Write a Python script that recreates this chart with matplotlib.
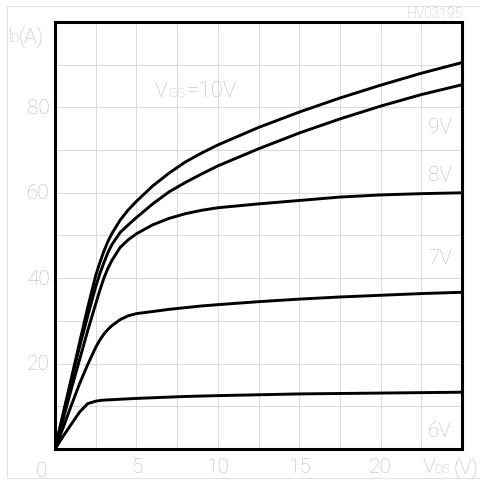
import matplotlib
matplotlib.use("Agg")
import matplotlib.pyplot as plt
from matplotlib.patches import Rectangle

vds = [0, 0.5, 1, 1.5, 2, 2.5, 2.75, 3, 3.25, 3.5, 4, 4.5, 5, 6, 7, 8, 9, 10, 12.5, 15, 17.5, 20, 22.5, 25]
id_10v = [0, 8.3, 16.5, 24.8, 33, 40.6, 43.6, 46.3, 48.6, 50.5, 53.6, 56, 58, 61.6, 64.6, 67.2, 69.3, 71.2, 75.3, 78.9, 82.2, 85.2, 88, 90.5]
id_9v = [0, 8, 16, 23.8, 31, 38, 41, 43.6, 46, 47.9, 50.7, 52.5, 54.2, 57.4, 60.2, 62.4, 64.4, 66.3, 70.3, 74, 77.3, 80.3, 83, 85.3]
id_8v = [0, 7, 14, 20.8, 27.6, 34, 37.1, 40, 42.3, 44.2, 47.2, 49, 50.4, 52.5, 54, 55.1, 55.9, 56.5, 57.4, 58.2, 59, 59.5, 59.8, 60]
id_7v = [0, 5, 10.2, 15.2, 19.7, 23.8, 25.5, 26.9, 28, 28.9, 30.3, 31.2, 31.7, 32.2, 32.7, 33.1, 33.5, 33.8, 34.5, 35.1, 35.6, 36, 36.4, 36.7]
id_6v = [0, 3, 5.8, 8.6, 10.6, 11.2, 11.35, 11.45, 11.5, 11.55, 11.65, 11.75, 11.85, 12.0, 12.15, 12.3, 12.4, 12.5, 12.7, 12.9, 13.0, 13.1, 13.2, 13.3]
series = [id_10v, id_9v, id_8v, id_7v, id_6v]

xticks = [5, 10, 15, 20]
yticks = [20, 40, 60, 80]

W = H = 481
fig = plt.figure(figsize=(W / 100, H / 100), dpi=100)
ax = fig.add_axes([55 / W, 1 - 450 / H, (462 - 55) / W, (450 - 23) / H])

TXT = "#bcbcbc"
FAM = ['Roboto', 'DejaVu Sans']
WT = 'light'

def px(x, y):
    return x / W, 1 - y / H

def t(x, y, s, size=15, ha="left", va="baseline"):
    fig.text(*px(x, y), s, ha=ha, va=va, color=TXT, fontsize=size, family=FAM, fontweight=WT)

# outer light frame
fig.patches.append(Rectangle(px(7, 479), (W + 10) / W, (479 - 7) / H, transform=fig.transFigure,
                             fill=False, edgecolor="#e2e2e2", linewidth=0.8, zorder=0))

for s in series:
    ax.plot(vds, s, color="black", linewidth=2.1, solid_capstyle="round", solid_joinstyle="round", zorder=3)

ax.set_xlim(0, 25)
ax.set_ylim(0, 100)
ax.set_xticks([x * 2.5 for x in range(11)])
ax.set_yticks(range(0, 101, 10))
ax.grid(True, color="#dcdcdc", linewidth=0.8)
ax.tick_params(length=0, labelbottom=False, labelleft=False)
for sp in ax.spines.values():
    sp.set_linewidth(2.2)
    sp.set_color("black")
    sp.set_zorder(5)

for v in xticks:
    x = 55 + v * (462 - 55) / 25
    t(x, 473, str(v), ha="center")
for v in yticks:
    y = 450 - v * (450 - 23) / 100
    t(50, y, str(v), ha="right", va="center")
t(41, 477, "0", ha="center")

# axis labels
t(7, 42, "I")
t(11, 42, "D", size=9)
t(19, 42, "(A)")

t(423, 473, "V")
t(435, 473, "DS", size=9)
t(454, 473, "(V)")

t(155, 97, "V")
t(169, 97, "GS", size=9)
t(186, 97, "=10V", size=16)

t(463, 18, "HV03195", size=10, ha="right")

for lab, y in [("9V", 133), ("8V", 181), ("7V", 264), ("6V", 437)]:
    t(452, y, lab, ha="right")

fig.savefig("out.png", dpi=100)
